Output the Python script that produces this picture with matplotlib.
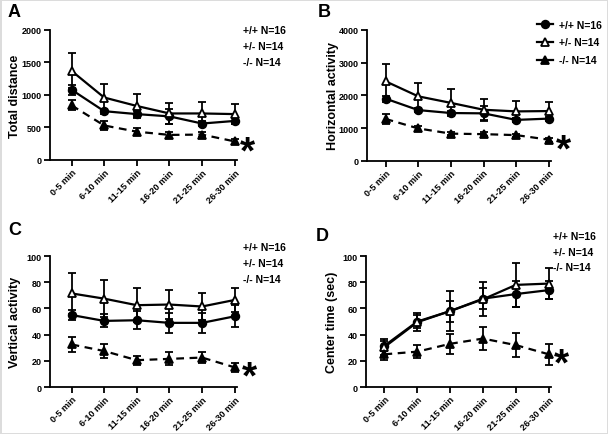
import matplotlib as mpl
mpl.use('Agg')
import matplotlib.pyplot as plt
from matplotlib.lines import Line2D

plt.rcParams['font.family'] = ['Liberation Sans', 'DejaVu Sans']

times = ["0-5 min", "6-10 min", "11-15 min", "16-20 min", "21-25 min", "26-30 min"]
groups = ["+/+ N=16", "+/- N=14", "-/- N=14"]

# A - total distance
dist_wt = [1080, 750, 705, 670, 560, 600]
dist_wt_err = [75, 40, 45, 120, 45, 45]
dist_het = [1370, 960, 830, 715, 715, 705]
dist_het_err = [270, 205, 180, 155, 170, 150]
dist_ko = [840, 530, 435, 385, 390, 285]
dist_ko_err = [75, 70, 50, 50, 35, 35]

# B - horizontal activity
hor_wt = [1900, 1550, 1460, 1450, 1250, 1290]
hor_wt_err = [90, 60, 70, 210, 50, 60]
hor_het = [2430, 1970, 1770, 1560, 1510, 1520]
hor_het_err = [530, 400, 410, 340, 320, 280]
hor_ko = [1280, 990, 830, 815, 785, 645]
hor_ko_err = [150, 80, 50, 60, 45, 60]

# C - vertical activity
ver_wt = [55, 50.5, 51, 49, 49, 54]
ver_wt_err = [4, 5, 7, 7.5, 7.5, 8.5]
ver_het = [71.5, 67.5, 62.5, 63, 61.5, 66.5]
ver_het_err = [15.5, 14, 13, 11, 10.5, 9]
ver_ko = [32.5, 27.5, 20.5, 21.5, 22.5, 15]
ver_ko_err = [6, 5, 3.5, 5, 4, 3.5]

# D - center time
cen_wt = [31.5, 50, 58, 67.5, 71, 74]
cen_wt_err = [4, 5, 8, 8, 10, 7]
cen_het = [30.5, 49.5, 58, 67, 78, 79]
cen_het_err = [6, 7, 15, 13, 17, 12]
cen_ko = [25, 27, 33, 37, 32, 25]
cen_ko_err = [4, 5, 7.5, 8.5, 9, 8]

fig = plt.figure(figsize=(6.08, 4.35), dpi=100)
fig.patch.set_facecolor('white')
fig.patch.set_edgecolor('#dcdcdc')
fig.patch.set_linewidth(2)

styles = [
    dict(marker='o', mfc='black', ls='-'),
    dict(marker='^', mfc='white', ls='-'),
    dict(marker='^', mfc='black', ls=(0, (3.5, 2.5))),
]


def panel(rect, xlim, letter, letter_xy, ylabel, series, ymax, ystep, star_xy, legend_mode, legend_pos):
    ax = fig.add_axes(rect)
    x = list(range(len(times)))
    for (vals, errs), st in zip(series, styles):
        ax.errorbar(x, vals, yerr=errs, color='black', lw=1.6, ls=st['ls'],
                    marker=st['marker'], ms=5.5, mfc=st['mfc'], mec='black', mew=1.3,
                    capsize=3, elinewidth=1.3, capthick=1.3, clip_on=False)
    ax.set_xlim(*xlim)
    ax.set_ylim(0, ymax)
    ax.set_yticks(range(0, ymax + 1, ystep))
    ax.set_xticks(x)
    ax.set_xticklabels(times, rotation=45, ha='right', rotation_mode='anchor')
    for s in ['top', 'right']:
        ax.spines[s].set_visible(False)
    for s in ['left', 'bottom']:
        ax.spines[s].set_linewidth(1.3)
    ax.tick_params(direction='out', length=4, width=1.3, pad=2)
    ax.tick_params(axis='y', labelsize=6.5)
    ax.tick_params(axis='x', labelsize=6.6, pad=1.5)
    for t in ax.get_xticklabels() + ax.get_yticklabels():
        t.set_fontweight('bold')
    ax.set_ylabel(ylabel, fontsize=9, fontweight='bold', va='center')
    ax.yaxis.set_label_coords(-0.185, 0.5)
    ax.text(letter_xy[0], letter_xy[1], letter, transform=ax.transAxes, fontsize=13,
            fontweight='bold', ha='center', va='center')
    ax.annotate("*", xy=star_xy, xytext=(0, -6), textcoords='offset points',
                fontsize=28, fontweight='bold', ha='center', va='center',
                annotation_clip=False)
    lx, ly, dy = legend_pos
    if legend_mode == 'markers':
        handles = [Line2D([], [], color='black', lw=1.6, marker=st['marker'], ms=5.5,
                          mfc=st['mfc'], mec='black', mew=1.3) for st in styles]
        ax.legend(handles, groups, loc='upper left', bbox_to_anchor=(lx, ly), frameon=False,
                  prop=dict(size=7.5, weight='bold'), handlelength=1.5, handletextpad=0.6,
                  labelspacing=0.75, borderaxespad=0)
    else:
        for i, g in enumerate(groups):
            ax.text(lx, ly - i * dy, g, transform=ax.transAxes, fontsize=7.5,
                    fontweight='bold', ha='left', va='center')
    return ax


panel([0.0822, 0.630, 0.3076, 0.299], (-0.66, 5.07), "A", (-0.19, 1.14), "Total distance",
      [(dist_wt, dist_wt_err), (dist_het, dist_het_err), (dist_ko, dist_ko_err)],
      2000, 500, (5.4, 246), 'text', (1.03, 1.0, 0.123))
panel([0.604, 0.628, 0.3026, 0.301], (-0.56, 5.07), "B", (-0.235, 1.14), "Horizontal activity",
      [(hor_wt, hor_wt_err), (hor_het, hor_het_err), (hor_ko, hor_ko_err)],
      4000, 1000, (5.46, 580), 'markers', (0.9, 1.11, 0))
panel([0.0822, 0.108, 0.3076, 0.301], (-0.66, 5.07), "C", (-0.19, 1.2), "Vertical activity",
      [(ver_wt, ver_wt_err), (ver_het, ver_het_err), (ver_ko, ver_ko_err)],
      100, 20, (5.45, 13.7), 'text', (1.03, 1.07, 0.122))
panel([0.602, 0.108, 0.3043, 0.301], (-0.56, 5.07), "D", (-0.235, 1.16), "Center time (sec)",
      [(cen_wt, cen_wt_err), (cen_het, cen_het_err), (cen_ko, cen_ko_err)],
      100, 20, (5.38, 23.7), 'text', (1.01, 1.15, 0.115))

fig.savefig("out.png", dpi=100, facecolor=fig.get_facecolor(), edgecolor=fig.get_edgecolor())
